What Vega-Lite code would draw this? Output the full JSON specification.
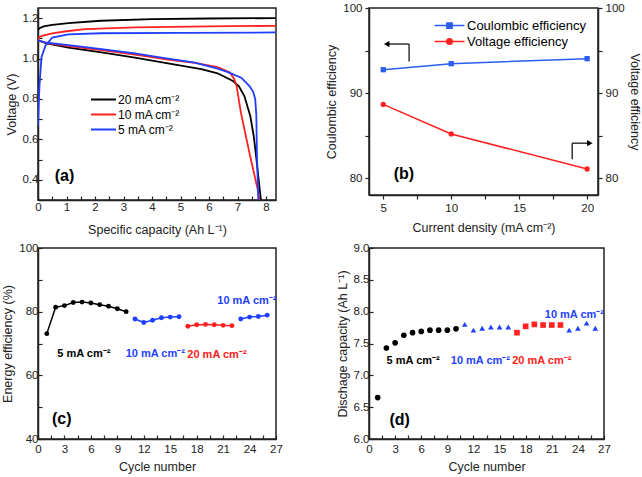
{
"$schema": "https://vega.github.io/schema/vega-lite/v6.json",
"padding": {"left": 1, "top": 1, "right": 0, "bottom": 0},
"background": "white",
"config": {
  "font": "Liberation Sans",
  "view": {"stroke": "#222", "strokeWidth": 1.5},
  "axis": {"grid": false, "domainColor": "#222", "domainWidth": 1.5, "tickColor": "#222", "tickWidth": 1.2, "tickSize": -4, "labelFontSize": 11.5, "labelColor": "#222", "titleFontSize": 12.5, "titleFontWeight": "normal", "titleColor": "#222", "labelPadding": 4, "titlePadding": 4, "labelOverlap": false, "labelBound": false, "labelFlush": false, "tickCount": 100},
  "axisX": {"labelPadding": 8, "titlePadding": 6},
  "legend": {"padding": 0, "titleFontSize": 0}
},
"columns": 2,
"spacing": {"row": 4, "column": 41},
"resolve": {"scale": {"color": "independent", "x": "independent", "y": "independent", "shape": "independent"}, "legend": {"color": "independent", "shape": "independent"}},
"concat": [
{
  "width": 238, "height": 192,
  "layer": [
    {"data": {"values": [
    {"s":"20 mA cm⁻²","p":"c","i":0,"x":0,"v":1.142},{"s":"20 mA cm⁻²","p":"c","i":1,"x":0.05,"v":1.15},{"s":"20 mA cm⁻²","p":"c","i":2,"x":0.2,"v":1.159},{"s":"20 mA cm⁻²","p":"c","i":3,"x":0.5,"v":1.166},{"s":"20 mA cm⁻²","p":"c","i":4,"x":1.07,"v":1.175},{"s":"20 mA cm⁻²","p":"c","i":5,"x":2.2,"v":1.187},{"s":"20 mA cm⁻²","p":"c","i":6,"x":4,"v":1.195},{"s":"20 mA cm⁻²","p":"c","i":7,"x":6,"v":1.198},{"s":"20 mA cm⁻²","p":"c","i":8,"x":8.34,"v":1.2},
    {"s":"20 mA cm⁻²","p":"d","i":0,"x":0,"v":1.09},{"s":"20 mA cm⁻²","p":"d","i":1,"x":0.3,"v":1.075},{"s":"20 mA cm⁻²","p":"d","i":2,"x":1.07,"v":1.054},{"s":"20 mA cm⁻²","p":"d","i":3,"x":2.23,"v":1.03},{"s":"20 mA cm⁻²","p":"d","i":4,"x":3.4,"v":1.005},{"s":"20 mA cm⁻²","p":"d","i":5,"x":4.56,"v":0.976},{"s":"20 mA cm⁻²","p":"d","i":6,"x":5.73,"v":0.947},{"s":"20 mA cm⁻²","p":"d","i":7,"x":6.3,"v":0.927},{"s":"20 mA cm⁻²","p":"d","i":8,"x":6.84,"v":0.889},{"s":"20 mA cm⁻²","p":"d","i":9,"x":7.05,"v":0.862},{"s":"20 mA cm⁻²","p":"d","i":10,"x":7.24,"v":0.814},{"s":"20 mA cm⁻²","p":"d","i":11,"x":7.45,"v":0.714},{"s":"20 mA cm⁻²","p":"d","i":12,"x":7.57,"v":0.615},{"s":"20 mA cm⁻²","p":"d","i":13,"x":7.64,"v":0.532},{"s":"20 mA cm⁻²","p":"d","i":14,"x":7.73,"v":0.416},{"s":"20 mA cm⁻²","p":"d","i":15,"x":7.82,"v":0.3},
    {"s":"10 mA cm⁻²","p":"c","i":0,"x":0,"v":1.096},{"s":"10 mA cm⁻²","p":"c","i":1,"x":0.05,"v":1.105},{"s":"10 mA cm⁻²","p":"c","i":2,"x":0.14,"v":1.112},{"s":"10 mA cm⁻²","p":"c","i":3,"x":0.5,"v":1.125},{"s":"10 mA cm⁻²","p":"c","i":4,"x":1,"v":1.135},{"s":"10 mA cm⁻²","p":"c","i":5,"x":1.65,"v":1.145},{"s":"10 mA cm⁻²","p":"c","i":6,"x":3.4,"v":1.154},{"s":"10 mA cm⁻²","p":"c","i":7,"x":6,"v":1.159},{"s":"10 mA cm⁻²","p":"c","i":8,"x":8.34,"v":1.162},
    {"s":"10 mA cm⁻²","p":"d","i":0,"x":0,"v":1.09},{"s":"10 mA cm⁻²","p":"d","i":1,"x":0.3,"v":1.076},{"s":"10 mA cm⁻²","p":"d","i":2,"x":1.07,"v":1.062},{"s":"10 mA cm⁻²","p":"d","i":3,"x":2.23,"v":1.042},{"s":"10 mA cm⁻²","p":"d","i":4,"x":3.4,"v":1.02},{"s":"10 mA cm⁻²","p":"d","i":5,"x":4.56,"v":0.995},{"s":"10 mA cm⁻²","p":"d","i":6,"x":5.5,"v":0.978},{"s":"10 mA cm⁻²","p":"d","i":7,"x":6.3,"v":0.958},{"s":"10 mA cm⁻²","p":"d","i":8,"x":6.72,"v":0.932},{"s":"10 mA cm⁻²","p":"d","i":9,"x":6.88,"v":0.9},{"s":"10 mA cm⁻²","p":"d","i":10,"x":6.97,"v":0.862},{"s":"10 mA cm⁻²","p":"d","i":11,"x":7.12,"v":0.731},{"s":"10 mA cm⁻²","p":"d","i":12,"x":7.42,"v":0.532},{"s":"10 mA cm⁻²","p":"d","i":13,"x":7.71,"v":0.35},{"s":"10 mA cm⁻²","p":"d","i":14,"x":7.77,"v":0.3},
    {"s":"5 mA cm⁻²","p":"c","i":0,"x":0,"v":0.665},{"s":"5 mA cm⁻²","p":"c","i":1,"x":0.02,"v":0.75},{"s":"5 mA cm⁻²","p":"c","i":2,"x":0.05,"v":0.86},{"s":"5 mA cm⁻²","p":"c","i":3,"x":0.12,"v":1.005},{"s":"5 mA cm⁻²","p":"c","i":4,"x":0.26,"v":1.063},{"s":"5 mA cm⁻²","p":"c","i":5,"x":0.5,"v":1.104},{"s":"5 mA cm⁻²","p":"c","i":6,"x":1.07,"v":1.12},{"s":"5 mA cm⁻²","p":"c","i":7,"x":2.2,"v":1.125},{"s":"5 mA cm⁻²","p":"c","i":8,"x":5,"v":1.127},{"s":"5 mA cm⁻²","p":"c","i":9,"x":8.34,"v":1.129},
    {"s":"5 mA cm⁻²","p":"d","i":0,"x":0,"v":1.09},{"s":"5 mA cm⁻²","p":"d","i":1,"x":0.3,"v":1.078},{"s":"5 mA cm⁻²","p":"d","i":2,"x":1.07,"v":1.066},{"s":"5 mA cm⁻²","p":"d","i":3,"x":2.23,"v":1.046},{"s":"5 mA cm⁻²","p":"d","i":4,"x":3.4,"v":1.025},{"s":"5 mA cm⁻²","p":"d","i":5,"x":4.33,"v":1.004},{"s":"5 mA cm⁻²","p":"d","i":6,"x":5.5,"v":0.98},{"s":"5 mA cm⁻²","p":"d","i":7,"x":6.3,"v":0.95},{"s":"5 mA cm⁻²","p":"d","i":8,"x":6.66,"v":0.933},{"s":"5 mA cm⁻²","p":"d","i":9,"x":7.13,"v":0.905},{"s":"5 mA cm⁻²","p":"d","i":10,"x":7.42,"v":0.864},{"s":"5 mA cm⁻²","p":"d","i":11,"x":7.55,"v":0.835},{"s":"5 mA cm⁻²","p":"d","i":12,"x":7.62,"v":0.8},{"s":"5 mA cm⁻²","p":"d","i":13,"x":7.66,"v":0.72},{"s":"5 mA cm⁻²","p":"d","i":14,"x":7.68,"v":0.532},{"s":"5 mA cm⁻²","p":"d","i":15,"x":7.73,"v":0.3}
    ]},
     "mark": {"type": "line", "strokeWidth": 1.8, "clip": true},
     "encoding": {
       "x": {"field": "x", "type": "quantitative", "scale": {"domain": [0, 8.35], "nice": false}, "axis": {"title": "Specific capacity (Ah L⁻¹)", "labelPadding": 5, "titlePadding": 11, "tickCount": 100, "values": [0,0.5,1,1.5,2,2.5,3,3.5,4,4.5,5,5.5,6,6.5,7,7.5,8], "labelExpr": "datum.value % 1 === 0 ? format(datum.value, 'd') : ''"}},
       "y": {"field": "v", "type": "quantitative", "scale": {"domain": [0.3, 1.25], "nice": false, "zero": false}, "axis": {"title": "Voltage (V)", "tickCount": 100, "values": [0.3,0.4,0.5,0.6,0.7,0.8,0.9,1.0,1.1,1.2], "labelExpr": "round(datum.value*10) % 2 === 0 ? format(datum.value, '.1f') : ''"}},
       "color": {"field": "s", "type": "nominal", "scale": {"domain": ["20 mA cm⁻²", "10 mA cm⁻²", "5 mA cm⁻²"], "range": ["#000000", "#ff2020", "#1f3fff"]}, "legend": {"orient": "none", "legendX": 58, "legendY": 84, "title": null, "symbolType": "M-2,0H2", "symbolSize": 156, "symbolStrokeWidth": 2, "labelFontSize": 12, "labelOffset": 7, "rowPadding": 1}},
       "detail": {"field": "p"},
       "order": {"field": "i", "type": "quantitative"}
     }},
    {"data": {"values": [{}]},
     "mark": {"type": "text", "fontSize": 16, "fontWeight": "bold", "align": "center", "baseline": "middle", "text": "(a)"},
     "encoding": {"x": {"datum": 0.93}, "y": {"datum": 0.417}}}
  ]
},
{
  "width": 229, "height": 187,
  "layer": [
    {"layer": [
      {"data": {"values": [
        {"cd": 5, "ce": 92.74},
        {"cd": 10, "ce": 93.45},
        {"cd": 20, "ce": 94.04}
       ]},
       "mark": {"type": "line", "strokeWidth": 1.5},
       "encoding": {
         "x": {"field": "cd", "type": "quantitative", "scale": {"domain": [3.95, 20.8], "nice": false, "zero": false}, "axis": {"title": "Current density (mA cm⁻²)", "tickCount": 100, "tickSize": 4, "labelPadding": 3, "titlePadding": 8, "values": [5, 7.5, 10, 12.5, 15, 17.5, 20], "labelExpr": "datum.value % 5 === 0 ? format(datum.value, 'd') : ''"}},
         "y": {"field": "ce", "type": "quantitative", "scale": {"domain": [78, 100], "nice": false, "zero": false}, "axis": {"title": "Coulombic efficiency", "tickCount": 100, "tickSize": 4, "labelPadding": 3, "values": [80, 85, 90, 95, 100], "labelExpr": "datum.value % 10 === 0 ? format(datum.value, 'd') : ''"}},
         "color": {"datum": "Coulombic efficiency", "scale": {"domain": ["Coulombic efficiency", "Voltage efficiency"], "range": ["#2a5ef0", "#ff2020"]},
           "legend": {"orient": "none", "legendX": 72, "legendY": 9, "title": null, "symbolSize": 225, "symbolStrokeWidth": 1.5, "labelFontSize": 13, "labelOffset": 9, "rowPadding": -5,
             "encode": {"symbols": {"update": {
               "shape": {"signal": "datum.value === 'Voltage efficiency' ? 'M-2,0H2M-0.37,0A0.37,0.37,0,1,0,0.37,0A0.37,0.37,0,1,0,-0.37,0Z' : 'M-2,0H2M-0.35,-0.35H0.35V0.35H-0.35Z'"},
               "fill": {"signal": "datum.value === 'Voltage efficiency' ? '#ff2020' : '#2a5ef0'"},
               "stroke": {"signal": "datum.value === 'Voltage efficiency' ? '#ff2020' : '#2a5ef0'"},
               "strokeWidth": {"value": 1.5}
             }}}}}
       }},
      {"data": {"values": [
        {"cd": 5, "ce": 92.74},
        {"cd": 10, "ce": 93.45},
        {"cd": 20, "ce": 94.04}
       ]},
       "mark": {"type": "point", "shape": "square", "filled": true, "size": 28, "opacity": 1},
       "encoding": {
         "x": {"field": "cd", "type": "quantitative"},
         "y": {"field": "ce", "type": "quantitative"},
         "color": {"datum": "Coulombic efficiency"}
       }},
      {"data": {"values": [{}]},
       "mark": {"type": "rule", "color": "#000", "strokeWidth": 1.2},
       "encoding": {"x": {"datum": 5.3}, "x2": {"datum": 6.9}, "y": {"datum": 95.76}}},
      {"data": {"values": [{}]},
       "mark": {"type": "rule", "color": "#000", "strokeWidth": 1.2},
       "encoding": {"x": {"datum": 6.9}, "y": {"datum": 95.76}, "y2": {"datum": 93.7}}},
      {"data": {"values": [{}]},
       "mark": {"type": "point", "shape": "triangle-left", "filled": true, "color": "#000", "size": 40, "opacity": 1},
       "encoding": {"x": {"datum": 5.25}, "y": {"datum": 95.76}}},
      {"data": {"values": [{}]},
       "mark": {"type": "rule", "color": "#000", "strokeWidth": 1.2},
       "encoding": {"x": {"datum": 18.9}, "y": {"datum": 82.2}, "y2": {"datum": 84.1}}},
      {"data": {"values": [{}]},
       "mark": {"type": "rule", "color": "#000", "strokeWidth": 1.2},
       "encoding": {"x": {"datum": 18.9}, "x2": {"datum": 20.1}, "y": {"datum": 84.1}}},
      {"data": {"values": [{}]},
       "mark": {"type": "point", "shape": "triangle-right", "filled": true, "color": "#000", "size": 40, "opacity": 1},
       "encoding": {"x": {"datum": 20.2}, "y": {"datum": 84.1}}},
      {"data": {"values": [{}]},
       "mark": {"type": "text", "fontSize": 16, "fontWeight": "bold", "align": "center", "baseline": "middle", "text": "(b)"},
       "encoding": {"x": {"datum": 6.52}, "y": {"datum": 80.5}}}
    ]},
    {"data": {"values": [
        {"cd": 5, "ve": 88.66},
        {"cd": 10, "ve": 85.18},
        {"cd": 20, "ve": 81.06}
     ]},
     "layer": [
      {"mark": {"type": "line", "strokeWidth": 1.5},
       "encoding": {
         "x": {"field": "cd", "type": "quantitative"},
         "y": {"field": "ve", "type": "quantitative", "scale": {"domain": [78, 100], "nice": false, "zero": false}, "axis": {"orient": "right", "title": "Voltage efficiency", "tickCount": 100, "tickSize": 4, "labelPadding": 3, "titlePadding": 3, "values": [80, 85, 90, 95, 100], "labelExpr": "datum.value % 10 === 0 ? format(datum.value, 'd') : ''"}},
         "color": {"datum": "Voltage efficiency"}
       }},
      {"mark": {"type": "point", "shape": "circle", "filled": true, "size": 28, "opacity": 1},
       "encoding": {
         "x": {"field": "cd", "type": "quantitative"},
         "y": {"field": "ve", "type": "quantitative"},
         "color": {"datum": "Voltage efficiency"}
       }}
    ]}
  ],
  "resolve": {"scale": {"y": "independent"}}
},
{
  "width": 238, "height": 191,
  "layer": [
    {"data": {"values": [
      {"n":1,"e":73.1,"g":"5","seg":1},{"n":2,"e":81.4,"g":"5","seg":1},{"n":3,"e":81.9,"g":"5","seg":1},{"n":4,"e":82.9,"g":"5","seg":1},{"n":5,"e":83.0,"g":"5","seg":1},{"n":6,"e":82.7,"g":"5","seg":1},{"n":7,"e":82.2,"g":"5","seg":1},{"n":8,"e":81.7,"g":"5","seg":1},{"n":9,"e":80.9,"g":"5","seg":1},{"n":10,"e":80.0,"g":"5","seg":1},
      {"n":11,"e":77.7,"g":"10","seg":2},{"n":12,"e":76.6,"g":"10","seg":2},{"n":13,"e":77.3,"g":"10","seg":2},{"n":14,"e":78.1,"g":"10","seg":2},{"n":15,"e":78.3,"g":"10","seg":2},{"n":16,"e":78.4,"g":"10","seg":2},
      {"n":17,"e":75.4,"g":"20","seg":3},{"n":18,"e":75.9,"g":"20","seg":3},{"n":19,"e":76.0,"g":"20","seg":3},{"n":20,"e":75.9,"g":"20","seg":3},{"n":21,"e":75.7,"g":"20","seg":3},{"n":22,"e":75.6,"g":"20","seg":3},
      {"n":23,"e":77.7,"g":"10","seg":4},{"n":24,"e":78.3,"g":"10","seg":4},{"n":25,"e":78.5,"g":"10","seg":4},{"n":26,"e":78.9,"g":"10","seg":4}
    ]},
     "layer": [
       {"mark": {"type": "line", "strokeWidth": 1.5},
        "encoding": {
          "x": {"field": "n", "type": "quantitative", "scale": {"domain": [0, 27], "nice": false}, "axis": {"title": "Cycle number", "tickCount": 100, "values": [0,1.5,3,4.5,6,7.5,9,10.5,12,13.5,15,16.5,18,19.5,21,22.5,24,25.5,27], "labelExpr": "datum.value % 3 === 0 ? format(datum.value, 'd') : ''"}},
          "y": {"field": "e", "type": "quantitative", "scale": {"domain": [40, 100], "nice": false, "zero": false}, "axis": {"title": "Energy efficiency (%)", "tickCount": 100, "values": [40,50,60,70,80,90,100], "labelExpr": "datum.value % 20 === 0 ? format(datum.value, 'd') : ''"}},
          "color": {"field": "g", "type": "nominal", "scale": {"domain": ["5", "10", "20"], "range": ["#000000", "#1f3fff", "#ff2020"]}, "legend": null},
          "detail": {"field": "seg"}
        }},
       {"mark": {"type": "point", "shape": "circle", "filled": true, "size": 24, "opacity": 1},
        "encoding": {
          "x": {"field": "n", "type": "quantitative"},
          "y": {"field": "e", "type": "quantitative"},
          "color": {"field": "g", "type": "nominal", "legend": null}
        }}
     ]},
    {"data": {"values": [
      {"t": "5 mA cm⁻²", "n": 5.2, "e": 66.6, "g": "5"},
      {"t": "10 mA cm⁻²", "n": 13.3, "e": 66.6, "g": "10"},
      {"t": "20 mA cm⁻²", "n": 20.3, "e": 66.3, "g": "20"},
      {"t": "10 mA cm⁻²", "n": 23.7, "e": 83.5, "g": "10"}
    ]},
     "mark": {"type": "text", "fontSize": 11, "fontWeight": "bold", "align": "center", "baseline": "middle"},
     "encoding": {
       "x": {"field": "n", "type": "quantitative"},
       "y": {"field": "e", "type": "quantitative"},
       "text": {"field": "t"},
       "color": {"field": "g", "type": "nominal", "legend": null}
     }},
    {"data": {"values": [{}]},
     "mark": {"type": "text", "fontSize": 16, "fontWeight": "bold", "align": "center", "baseline": "middle", "text": "(c)"},
     "encoding": {"x": {"datum": 2.7}, "y": {"datum": 46.3}}}
  ]
},
{
  "width": 235, "height": 191,
  "layer": [
    {"data": {"values": [
      {"n":1,"q":6.65,"g":"5"},{"n":2,"q":7.43,"g":"5"},{"n":3,"q":7.51,"g":"5"},{"n":4,"q":7.63,"g":"5"},{"n":5,"q":7.67,"g":"5"},{"n":6,"q":7.69,"g":"5"},{"n":7,"q":7.71,"g":"5"},{"n":8,"q":7.71,"g":"5"},{"n":9,"q":7.71,"g":"5"},{"n":10,"q":7.73,"g":"5"},
      {"n":11,"q":7.8,"g":"10"},{"n":12,"q":7.71,"g":"10"},{"n":13,"q":7.74,"g":"10"},{"n":14,"q":7.76,"g":"10"},{"n":15,"q":7.76,"g":"10"},{"n":16,"q":7.76,"g":"10"},
      {"n":17,"q":7.67,"g":"20"},{"n":18,"q":7.77,"g":"20"},{"n":19,"q":7.8,"g":"20"},{"n":20,"q":7.79,"g":"20"},{"n":21,"q":7.79,"g":"20"},{"n":22,"q":7.79,"g":"20"},
      {"n":23,"q":7.71,"g":"10"},{"n":24,"q":7.74,"g":"10"},{"n":25,"q":7.82,"g":"10"},{"n":26,"q":7.74,"g":"10"}
    ]},
     "mark": {"type": "point", "filled": true, "size": 32, "opacity": 1},
     "encoding": {
       "x": {"field": "n", "type": "quantitative", "scale": {"domain": [0, 27], "nice": false}, "axis": {"title": "Cycle number", "tickCount": 100, "values": [0,1.5,3,4.5,6,7.5,9,10.5,12,13.5,15,16.5,18,19.5,21,22.5,24,25.5,27], "labelExpr": "datum.value % 3 === 0 ? format(datum.value, 'd') : ''"}},
       "y": {"field": "q", "type": "quantitative", "scale": {"domain": [6, 9], "nice": false, "zero": false}, "axis": {"title": "Dischage capacity (Ah L⁻¹)", "tickCount": 100, "values": [6,6.5,7,7.5,8,8.5,9], "format": ".1f"}},
       "color": {"field": "g", "type": "nominal", "scale": {"domain": ["5", "10", "20"], "range": ["#000000", "#1f3fff", "#ff2020"]}, "legend": null},
       "shape": {"field": "g", "type": "nominal", "scale": {"domain": ["5", "10", "20"], "range": ["circle", "triangle-up", "square"]}, "legend": null}
     }},
    {"data": {"values": [
      {"t": "5 mA cm⁻²", "n": 5.07, "q": 7.22, "g": "5"},
      {"t": "10 mA cm⁻²", "n": 12.8, "q": 7.22, "g": "10"},
      {"t": "20 mA cm⁻²", "n": 19.85, "q": 7.22, "g": "20"},
      {"t": "10 mA cm⁻²", "n": 23.6, "q": 7.95, "g": "10"}
    ]},
     "mark": {"type": "text", "fontSize": 11, "fontWeight": "bold", "align": "center", "baseline": "middle"},
     "encoding": {
       "x": {"field": "n", "type": "quantitative"},
       "y": {"field": "q", "type": "quantitative"},
       "text": {"field": "t"},
       "color": {"field": "g", "type": "nominal", "legend": null}
     }},
    {"data": {"values": [{}]},
     "mark": {"type": "text", "fontSize": 16, "fontWeight": "bold", "align": "center", "baseline": "middle", "text": "(d)"},
     "encoding": {"x": {"datum": 3.53}, "y": {"datum": 6.3}}}
  ]
}
]
}
